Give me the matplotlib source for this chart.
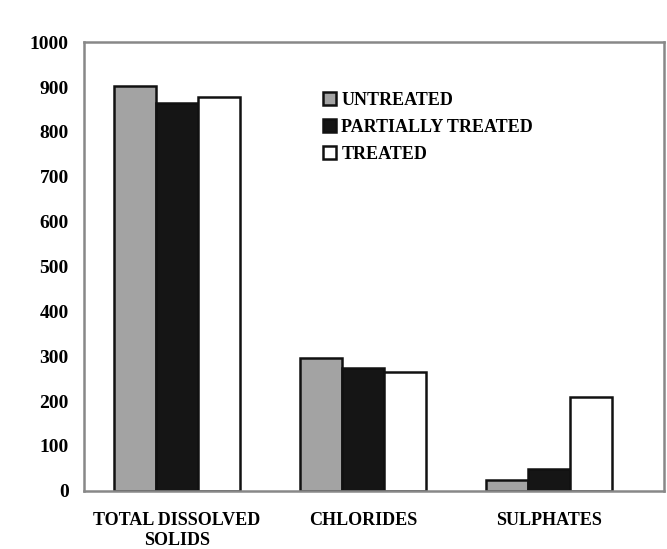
import matplotlib
matplotlib.use("Agg")
import matplotlib.pyplot as plt
import numpy as np

categories = ["TOTAL DISSOLVED\nSOLIDS", "CHLORIDES", "SULPHATES"]
series_names = ["UNTREATED", "PARTIALLY TREATED", "TREATED"]
untreated = [903, 295, 24]
partially_treated = [864, 273, 48]
treated = [878, 265, 209]
yticks = [0, 100, 200, 300, 400, 500, 600, 700, 800, 900, 1000]

colors = ["#a3a3a3", "#151515", "#ffffff"]

plt.rcParams['font.family'] = ['Liberation Serif', 'DejaVu Serif']
plt.rcParams['font.weight'] = 'bold'

fig = plt.figure(figsize=(6.67, 5.49), dpi=100)
ax = fig.add_axes([0.126, 0.106, 0.87, 0.817])

x = np.arange(len(categories))
w = 0.226
for i, (vals, name, c) in enumerate(zip([untreated, partially_treated, treated], series_names, colors)):
    ax.bar(x + (i - 1) * w, vals, width=w, color=c, edgecolor="#111111",
           linewidth=1.8, label=name)

ax.set_xlim(-0.5, 2.62)
ax.set_ylim(0, 1000)
ax.set_yticks(yticks)
ax.set_yticklabels([str(v) for v in yticks], fontsize=14, fontweight='bold')
ax.set_xticks(x)
ax.set_xticklabels(categories, fontsize=13, fontweight='bold', linespacing=1.25)
ax.tick_params(axis='y', length=0, pad=11)
ax.tick_params(axis='x', length=0, pad=15)
for s in ax.spines.values():
    s.set_color("#888888")
    s.set_linewidth(1.8)

leg = ax.legend(loc='upper left', bbox_to_anchor=(0.4, 0.905), frameon=False,
                handlelength=0.7, handleheight=0.7,
                handletextpad=0.3, labelspacing=0.55, borderaxespad=0,
                prop={'weight': 'bold', 'size': 13})

fig.savefig("out.png", dpi=100)
